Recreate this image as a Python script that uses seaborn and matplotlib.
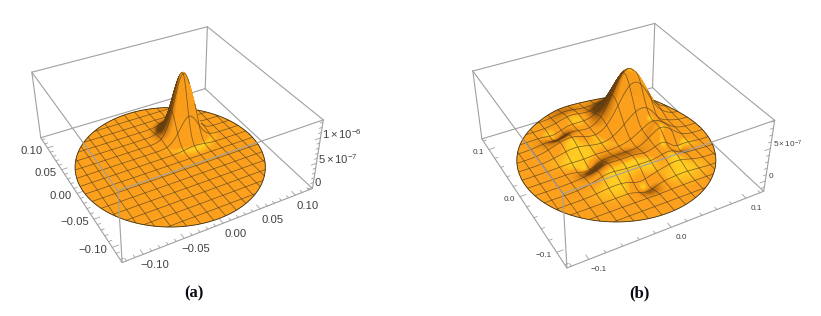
import numpy as np, matplotlib
matplotlib.use('Agg')
import matplotlib.pyplot as plt
import seaborn as sns
from mpl_toolkits.mplot3d import proj3d

# ---- values: each surface as bumps (amplitude, x, y, width)
a_amp = [1.30e-6]
a_x = [0.040]
a_y = [0.041]
a_sig = [0.0132]

b_amp = [8.2e-7, 1.5e-7, 0.9e-7, 1.3e-7, 1.0e-7, 1.2e-7, 2.4e-7,
         -1.0e-7, -1.0e-7, -0.9e-7, -1.2e-7, -0.6e-7]
b_x = [0.046, -0.044, -0.018, -0.030, 0.008, 0.049, 0.058,
       -0.050, -0.042, 0.001, 0.066, 0.073]
b_y = [0.052, 0.042, 0.088, -0.029, -0.028, -0.043, -0.006,
       0.060, -0.009, -0.064, -0.027, 0.028]
b_sig = [0.022, 0.019, 0.015, 0.018, 0.015, 0.017, 0.016,
         0.010, 0.011, 0.010, 0.009, 0.008]

a_major = [-0.10, -0.05, 0.00, 0.05, 0.10]
a_major_txt = ['\u22120.10', '\u22120.05', '0.00', '0.05', '0.10']
a_minor = [-0.12, -0.11, -0.09, -0.08, -0.07, -0.06, -0.04, -0.03, -0.02, -0.01,
           0.01, 0.02, 0.03, 0.04, 0.06, 0.07, 0.08, 0.09, 0.11, 0.12]
b_major = [-0.1, 0.0, 0.1]
b_major_txt = ['\u22120.1', '0.0', '0.1']
b_minor = [-0.12, -0.08, -0.06, -0.04, -0.02, 0.02, 0.04, 0.06, 0.08, 0.12]

a_zmajor = [0.0, 5e-7, 1e-6]
a_zmajor_txt = ['0', r'5$\,$×$\,$10$^{-7}$', r'1$\,$×$\,$10$^{-6}$']
a_zminor = [1e-7, 2e-7, 3e-7, 4e-7, 6e-7, 7e-7, 8e-7, 9e-7, 1.1e-6, 1.2e-6, 1.3e-6]
b_zmajor = [0.0, 5e-7]
b_zmajor_txt = ['0', r'5$\,$×$\,$10$^{-7}$']
b_zminor = [-1e-7, 1e-7, 2e-7, 3e-7, 4e-7, 6e-7, 7e-7, 8e-7, 9e-7]

a_zlim = (-2.6e-8, 1.34e-6)
b_zlim = (-1.67e-7, 9.1e-7)

HALF = 0.125
RADIUS = 0.118
N_MESH = 14
W_PX, H_PX = 821, 316
ASPECT = (1, 1, 0.4)

EDGE = '#a0a0a0'
TXT = '#404040'
MESH = (0.30, 0.24, 0.12, 0.72)
sns.set_theme(style='white')
plt.rcParams['font.family'] = ['Liberation Sans', 'DejaVu Sans']
plt.rcParams['mathtext.default'] = 'regular'
plt.rcParams['mathtext.fontset'] = 'dejavusans'
surf_cmap = sns.blend_palette(['#6e400c', '#cf7a10', '#fca01c', '#ffc41e', '#ffe52a'], as_cmap=True)
TONE_MID = 0.5


def surface(x, y, amp, bx, by, sig):
    z = np.zeros_like(x, float); zx = z.copy(); zy = z.copy()
    for A, cx, cy, s in zip(amp, bx, by, sig):
        g = A * np.exp(-((x - cx) ** 2 + (y - cy) ** 2) / (2 * s * s))
        z += g
        zx += -g * (x - cx) / (s * s)
        zy += -g * (y - cy) / (s * s)
    return z, zx, zy


def panel(rect_params, amp, bx, by, sig, zlim, major, major_txt, minor, zmajor, zmajor_txt, zminor,
          fs, xoff, yoff, zoff):
    az, el, D, s, cx, cy = rect_params
    norm = np.linalg.norm(ASPECT)
    L = 1.8294640721620434 * 25 / 24 / norm
    f = D * L / 20
    W = 0.185 * s / f
    left = cx - 0.095 / 0.185 * W
    bottom = (H_PX - cy) - 0.095 / 0.185 * W
    ax = fig.add_axes([left / W_PX, bottom / H_PX, W / W_PX, W / H_PX], projection='3d')
    ax.set_proj_type('persp', focal_length=f)
    ax.view_init(elev=el, azim=az)
    ax.set_box_aspect(ASPECT)
    ax.set_xlim(-HALF, HALF, view_margin=0)
    ax.set_ylim(-HALF, HALF, view_margin=0)
    ax.set_zlim(*zlim, view_margin=0)
    ax.set_axis_off()
    ax.patch.set_alpha(0)
    ax.computed_zorder = False
    z0, z1 = zlim
    zmid, zh = (z0 + z1) / 2, (z1 - z0) / 2
    azr, elr = np.radians(az), np.radians(el)
    w = np.array([np.cos(elr) * np.cos(azr), np.cos(elr) * np.sin(azr), np.sin(elr)])
    u = np.array([-np.sin(azr), np.cos(azr), 0.0])
    v = np.cross(w, u)

    # surface
    r = np.linspace(0, RADIUS, 110)
    t = np.linspace(0, 2 * np.pi, 361)
    R, T = np.meshgrid(r, t)
    X, Y = R * np.cos(T), R * np.sin(T)
    Z, Zx, Zy = surface(X, Y, amp, bx, by, sig)
    k = ASPECT[2] * HALF / zh
    nx, ny, nz = -Zx * k, -Zy * k, np.ones_like(Z)
    nn = np.sqrt(nx ** 2 + ny ** 2 + nz ** 2)
    nx, ny, nz = nx / nn, ny / nn, nz / nn
    nu = nx * u[0] + ny * u[1]
    nv = nx * v[0] + ny * v[1] + nz * v[2]
    nw = nx * w[0] + ny * w[1] + nz * w[2]
    flat = np.array([0.0, v[2], w[2]])
    Hv = flat + np.array([0.16, -0.30, 0.0]) + np.array([0, 0, 0.10])
    Hv = Hv / np.linalg.norm(Hv)
    lobe_cos = nu * Hv[0] + nv * Hv[1] + nw * Hv[2]
    flat_cos = flat @ Hv
    lobe = np.clip((lobe_cos - flat_cos - 0.006) / (1 - flat_cos), 0, 1) ** 0.9
    Ld = np.array([0.62, 0.0, 1.0]); Ld = Ld / np.linalg.norm(Ld)
    sd = nu * Ld[0] + nw * Ld[2]
    sflat = flat @ Ld
    dark = np.clip((sflat - 0.05 - sd) / 0.50, 0, 1)
    tone = np.clip(TONE_MID + 0.36 * lobe - 0.5 * dark, 0, 1)
    C = surf_cmap(tone)
    ax.plot_surface(X, Y, Z, facecolors=C, rstride=1, cstride=1, shade=False,
                    linewidth=0.35, antialiased=True, zorder=2)

    # hidden test for lines on the surface
    eye = D * w
    def visible(px, py):
        pz, _, _ = surface(px, py, amp, bx, by, sig)
        P = np.c_[px / HALF, py / HALF, (pz - zmid) / zh * ASPECT[2]]
        vis = np.ones(len(px), bool)
        for tt in np.linspace(0.002, 0.25, 90):
            Q = P + (eye - P) * tt
            qx, qy = Q[:, 0] * HALF, Q[:, 1] * HALF
            sz, _, _ = surface(qx, qy, amp, bx, by, sig)
            sbox = (sz - zmid) / zh * ASPECT[2]
            inside = qx ** 2 + qy ** 2 < RADIUS ** 2
            vis &= ~(inside & (sbox > Q[:, 2] + 0.004))
        return pz, vis

    levels = np.linspace(-RADIUS, RADIUS, N_MESH + 2)[1:-1]
    for c in levels:
        m = np.sqrt(RADIUS ** 2 - c ** 2)
        q = np.linspace(-m, m, 260)
        for (lx, ly) in ((np.full_like(q, c), q), (q, np.full_like(q, c))):
            pz, vis = visible(lx, ly)
            pz = np.where(vis, pz, np.nan)
            ax.plot(lx, ly, pz, color=MESH, lw=0.55, zorder=3, solid_capstyle='butt', clip_on=False)
    th = np.linspace(0, 2 * np.pi, 500)
    ox, oy = RADIUS * np.cos(th), RADIUS * np.sin(th)
    pz, vis = visible(ox, oy)
    ax.plot(ox, oy, np.where(vis, pz, np.nan), color='#3a3320', lw=0.6, zorder=3, clip_on=False)

    # box
    H = HALF
    c = {(i, j, k2): (i * H, j * H, z1 if k2 else z0) for i in (-1, 1) for j in (-1, 1) for k2 in (0, 1)}
    edges = [((-1, -1, 0), (1, -1, 0)), ((-1, -1, 0), (-1, 1, 0)), ((1, -1, 0), (1, 1, 0)), ((-1, 1, 0), (1, 1, 0)),
             ((-1, -1, 1), (1, -1, 1)), ((-1, -1, 1), (-1, 1, 1)), ((1, -1, 1), (1, 1, 1)), ((-1, 1, 1), (1, 1, 1)),
             ((-1, -1, 0), (-1, -1, 1)), ((1, -1, 0), (1, -1, 1)), ((-1, 1, 0), (-1, 1, 1)), ((1, 1, 0), (1, 1, 1))]
    front = {((-1, -1, 1), (1, -1, 1)), ((-1, -1, 1), (-1, 1, 1)), ((-1, -1, 0), (-1, -1, 1))}
    for e in edges:
        p, q = np.array(c[e[0]]), np.array(c[e[1]])
        ax.plot(*zip(p, q), color=EDGE, lw=0.8, zorder=4 if e in front else 1, solid_capstyle='round', clip_on=False)

    # ticks
    for vals, ln in ((major, 0.0075), (minor, 0.004)):
        for val in vals:
            ax.plot([val, val], [-H, -H + ln], [z0, z0], color=EDGE, lw=0.6, zorder=1, clip_on=False)
            ax.plot([-H, -H + ln], [val, val], [z0, z0], color=EDGE, lw=0.6, zorder=1, clip_on=False)
    for vals, ln in ((zmajor, 0.0075), (zminor, 0.004)):
        for val in vals:
            ax.plot([H, H - ln], [-H, -H], [val, val], color=EDGE, lw=0.6, zorder=1, clip_on=False)

    # labels, placed from the projected tick positions
    M = ax.get_proj()
    for val, txt in zip(major, major_txt):
        xp, yp, _ = proj3d.proj_transform(val, -H, z0, M)
        ax.annotate(txt, (xp, yp), xytext=xoff, textcoords='offset pixels', ha='center', va='center',
                    fontsize=fs, color=TXT, annotation_clip=False)
        xp, yp, _ = proj3d.proj_transform(-H, val, z0, M)
        ax.annotate(txt, (xp, yp), xytext=yoff, textcoords='offset pixels', ha='right', va='center',
                    fontsize=fs, color=TXT, annotation_clip=False)
    for val, txt in zip(zmajor, zmajor_txt):
        xp, yp, _ = proj3d.proj_transform(H, -H, val, M)
        ax.annotate(txt, (xp, yp), xytext=zoff, textcoords='offset pixels', ha='left', va='center',
                    fontsize=fs, color=TXT, annotation_clip=False)
    return ax


fig = plt.figure(figsize=(W_PX / 100, H_PX / 100), dpi=100, facecolor='white')
panel((-118.361, 35.995, 6.715, 695.202, 170.212, 129.530), a_amp, a_x, a_y, a_sig, a_zlim,
      a_major, a_major_txt, a_minor, a_zmajor, a_zmajor_txt, a_zminor, 8.1, (12, -11), (-5, -3), (2, 4))
panel((-118.446, 36.099, 6.873, 737.247, 616.333, 130.360), b_amp, b_x, b_y, b_sig, b_zlim,
      b_major, b_major_txt, b_minor, b_zmajor, b_zmajor_txt, b_zminor, 5.9, (10, -10), (-5, -3), (3, 4))
for cap, xc in (('(a)', 194), ('(b)', 639)):
    fig.text(xc / W_PX, 1 - 293 / H_PX, cap, family='Liberation Serif', weight='bold', fontsize=12,
             ha='center', va='center', color='#0a0a14')
fig.savefig('out.png', dpi=100)
